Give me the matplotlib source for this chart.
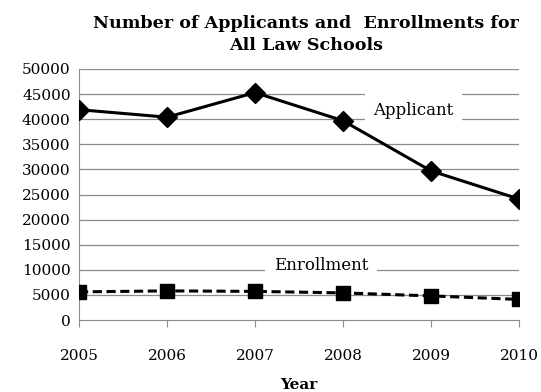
import matplotlib.pyplot as plt
import numpy as np

plt.rcParams['font.family'] = ['DejaVu Serif']

# data
years = [2005, 2006, 2007, 2008, 2009, 2010]
applicants = [41900, 40400, 45300, 39700, 29700, 24100]
enrollments = [5600, 5800, 5700, 5400, 4800, 4100]
yticks = np.arange(0, 50001, 5000)

fig = plt.figure(figsize=(5.41, 3.92), dpi=100)
ax = fig.add_axes([79 / 541, 1 - 320 / 392, 440 / 541, 251 / 392])

grid_col = '#8c8c8c'
for v in yticks[1:]:
    ax.axhline(v, color=grid_col, lw=0.9, zorder=0)

ax.plot(years, applicants, color='black', lw=2.2, marker='D', ms=10, zorder=3)
ax.plot(years, enrollments, color='black', lw=2.2, ls=(0, (3, 1.5)), marker='s', ms=10, zorder=3)

ax.set_xlim(2005, 2010)
ax.set_ylim(0, 50000)
ax.set_xticks(years)
ax.set_yticks(yticks)
ax.tick_params(axis='x', length=5, color=grid_col, labelsize=11, pad=16)
ax.tick_params(axis='y', length=0, labelsize=11, pad=6)
for s in ['top', 'right']:
    ax.spines[s].set_visible(False)
ax.spines['left'].set_color(grid_col)
ax.spines['bottom'].set_color(grid_col)

ax.text(2008.8, 41800, 'Applicant', fontsize=12, ha='center', va='center',
        bbox=dict(facecolor='white', edgecolor='none', pad=6), zorder=2)
ax.text(2007.75, 10900, 'Enrollment', fontsize=12, ha='center', va='center',
        bbox=dict(facecolor='white', edgecolor='none', pad=6), zorder=2)

ax.set_xlabel('Year', fontsize=11, fontweight='bold', labelpad=11)
fig.suptitle('Number of Applicants and  Enrollments for\nAll Law Schools',
             fontsize=12.6, fontweight='bold', x=0.565, y=0.962, linespacing=1.4)

fig.savefig('out.png', dpi=100)
